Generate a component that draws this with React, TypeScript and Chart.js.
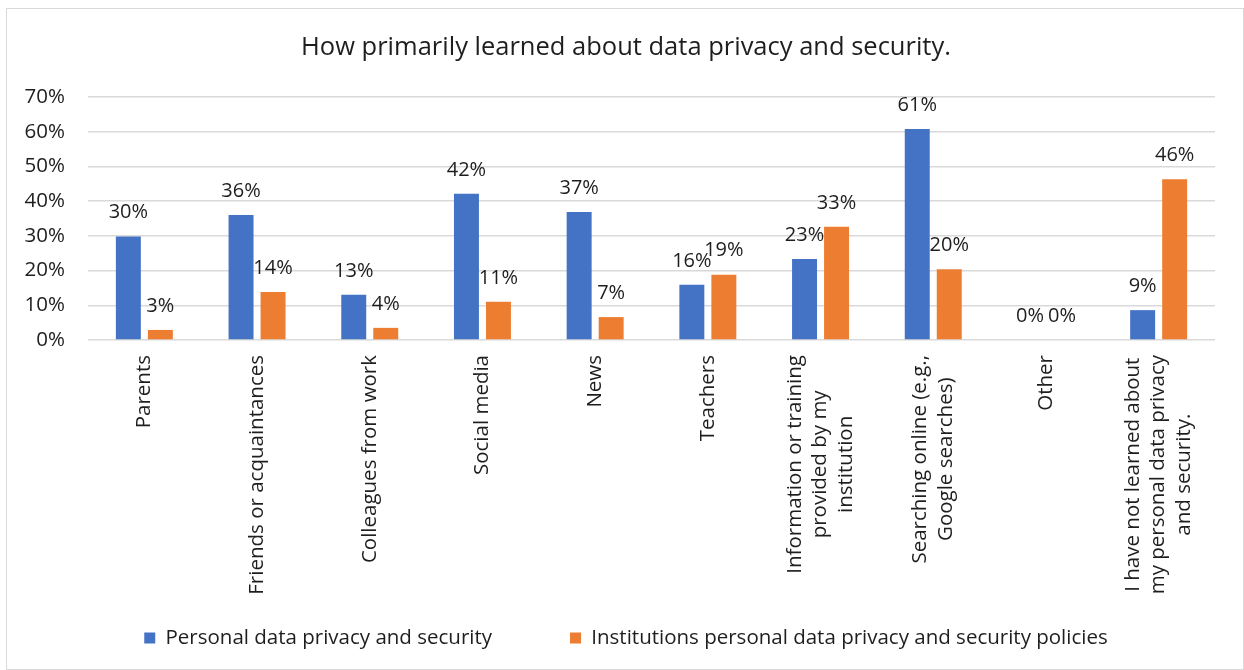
import React, { useEffect, useRef } from "react";
import { Chart, registerables } from "chart.js";

Chart.register(...registerables);

const FONT = "'Open Sans', 'Noto Sans', sans-serif";
const TEXT = "#1e1e1e";
const FS = 20.5;

const titleText = "How primarily learned about data privacy and security.";

const categoryLines: string[][] = [
  ["Parents"],
  ["Friends or acquaintances"],
  ["Colleagues from work"],
  ["Social media"],
  ["News"],
  ["Teachers"],
  ["Information or training", "provided by my", "institution"],
  ["Searching online (e.g.,", "Google searches)"],
  ["Other"],
  ["I have not learned about", "my personal data privacy", "and security."],
];
const categories = categoryLines.map((l) => l.join(" "));

const seriesNames = [
  "Personal data privacy and security",
  "Institutions personal data privacy and security policies",
];
const personalValues = [29.8, 36.0, 13.0, 42.1, 36.9, 15.9, 23.3, 60.8, 0, 8.6];
const institutionValues = [2.9, 13.8, 3.5, 11.0, 6.6, 18.8, 32.6, 20.4, 0, 46.3];
const seriesColors = ["#4472C4", "#ED7D31"];

const yTicks = [0, 10, 20, 30, 40, 50, 60, 70];
const yTickLabels = yTicks.map((v) => v + "%");

const valueLabels = {
  id: "valueLabels",
  afterDatasetsDraw(chart: any) {
    const ctx = chart.ctx;
    ctx.save();
    ctx.font = `${FS - 0.5}px ${FONT}`;
    ctx.fillStyle = TEXT;
    ctx.textAlign = "center";
    ctx.textBaseline = "middle";
    chart.data.datasets.forEach((ds: any, di: number) => {
      const meta = chart.getDatasetMeta(di);
      meta.data.forEach((el: any, i: number) => {
        const v = ds.data[i] as number;
        ctx.fillText(Math.round(v) + "%", el.x, el.y - 24);
      });
    });
    ctx.restore();
  },
};

const axisLabels = {
  id: "axisLabels",
  afterDraw(chart: any) {
    const xs = chart.scales.x;
    const ys = chart.scales.y;
    const ctx = chart.ctx;
    ctx.save();
    ctx.font = `${FS}px ${FONT}`;
    ctx.fillStyle = TEXT;
    ctx.textBaseline = "middle";

    // y tick labels
    ctx.textAlign = "right";
    yTicks.forEach((v, i) => {
      ctx.fillText(yTickLabels[i], chart.chartArea.left - 23, ys.getPixelForValue(v));
    });

    // x category labels (rotated, lines centred, block top-aligned)
    ctx.textAlign = "center";
    const top = chart.chartArea.bottom + 15;
    categoryLines.forEach((lines, i) => {
      const x = xs.getPixelForValue(i);
      const maxW = Math.max(...lines.map((l) => ctx.measureText(l).width));
      ctx.save();
      ctx.translate(x, top);
      ctx.rotate(-Math.PI / 2);
      lines.forEach((line, j) => {
        const off = (j - (lines.length - 1) / 2) * 25.5;
        ctx.fillText(line, -maxW / 2, off);
      });
      ctx.restore();
    });
    ctx.restore();
  },
};

export default function App() {
  const ref = useRef<HTMLCanvasElement | null>(null);

  useEffect(() => {
    if (!ref.current) return;
    const legendPad = 78;
    const legendCenter = 629;
    const legendTop = legendCenter - legendPad - FS / 2;
    const legendBottom = legendTop + FS + legendPad + 10;
    const plotBottom = 331;

    const chart = new Chart(ref.current, {
      type: "bar",
      data: {
        labels: categories,
        datasets: [
          {
            label: seriesNames[0],
            data: personalValues,
            backgroundColor: seriesColors[0],
            categoryPercentage: 0.568,
            barPercentage: 0.78,
          },
          {
            label: seriesNames[1],
            data: institutionValues,
            backgroundColor: seriesColors[1],
            categoryPercentage: 0.568,
            barPercentage: 0.78,
          },
        ],
      },
      options: {
        responsive: false,
        animation: false,
        layout: {
          padding: { left: 30, right: 28, top: 0, bottom: 660 - legendBottom },
        },
        font: { family: FONT },
        plugins: {
          title: {
            display: true,
            text: titleText,
            color: TEXT,
            font: { family: FONT, size: 25.5, weight: "normal" },
            padding: { top: 23.7, bottom: 33.7 },
          },
          legend: {
            position: "bottom",
            labels: {
              color: TEXT,
              font: { family: FONT, size: FS },
              boxWidth: 11,
              boxHeight: 11,
              padding: legendPad,
            },
          },
          tooltip: { enabled: false },
        },
        scales: {
          x: {
            grid: { display: false },
            border: { display: false },
            ticks: { display: false },
            afterFit(scale: any) {
              scale.height = legendTop - plotBottom;
            },
          },
          y: {
            min: yTicks[0],
            max: yTicks[yTicks.length - 1],
            border: { display: false },
            grid: { color: "#d9d9d9", lineWidth: 1.4, drawTicks: false },
            ticks: {
              stepSize: yTicks[1] - yTicks[0],
              display: false,
            },
            afterFit(scale: any) {
              scale.width = 51;
            },
          },
        },
      },
      plugins: [valueLabels, axisLabels],
    });
    return () => chart.destroy();
  }, []);

  return (
    <div
      style={{
        position: "absolute",
        left: 6,
        top: 8,
        width: 1238,
        height: 662,
        border: "1px solid #d9d9d9",
        boxSizing: "border-box",
        background: "#fff",
      }}
    >
      <canvas ref={ref} width={1236} height={660} style={{ display: "block" }} />
    </div>
  );
}
